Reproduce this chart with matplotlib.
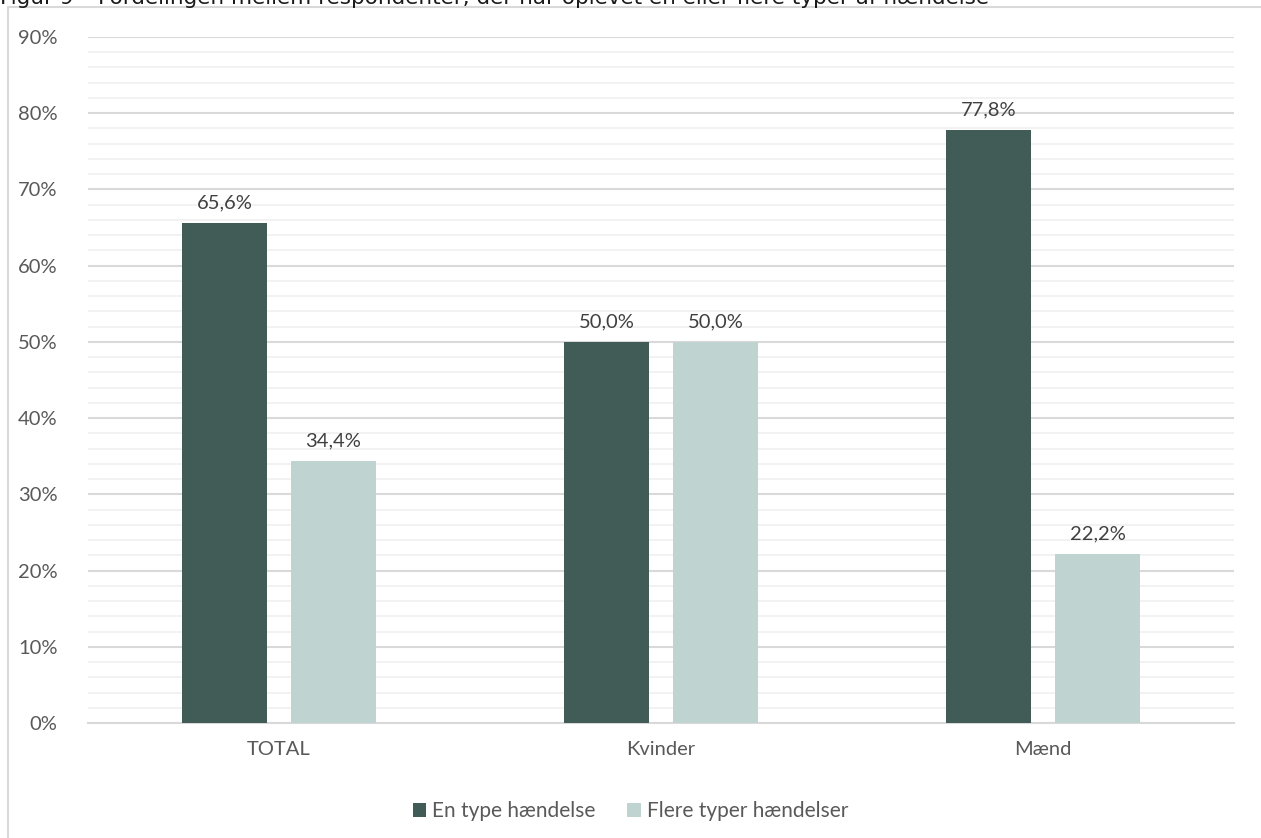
import numpy as np
import matplotlib.pyplot as plt
from matplotlib.patches import Rectangle

categories = ['TOTAL', 'Kvinder', 'Mænd']
series_names = ['En type hændelse', 'Flere typer hændelser']
one_type = [65.6, 50.0, 77.8]
several_types = [34.4, 50.0, 22.2]
colors = ['#415b57', '#bfd3d1']
title = 'Figur 9 – Fordelingen mellem respondenter, der har oplevet en eller flere typer af hændelse'

W, H = 1261, 838
fig = plt.figure(figsize=(W / 100, H / 100), dpi=100)
plt.rcParams['font.family'] = ['Lato', 'DejaVu Sans']

# chart frame (partly outside the picture)
fig.patches.append(Rectangle((8 / W, -0.1), 1.2, 1 - 7 / H + 0.1, transform=fig.transFigure,
                             fill=False, edgecolor='#d9d9d9', lw=1.5))
# title, cut off at the top as in the source
fig.text(0 / W, 1 - 4 / H, title, ha='left', va='baseline', fontsize=15.5,
         family='DejaVu Sans', color='#1a1a1a')

ax = fig.add_axes([88 / W, 1 - 723 / H, (1234 - 88) / W, (723 - 37) / H])
x = np.arange(len(categories))
bw = 0.225
off = 0.1427
bars1 = ax.bar(x - off, one_type, bw, color=colors[0], label=series_names[0], zorder=3)
bars2 = ax.bar(x + off, several_types, bw, color=colors[1], label=series_names[1], zorder=3)

for bars in (bars1, bars2):
    for b in bars:
        v = b.get_height()
        ax.text(b.get_x() + b.get_width() / 2, v + 1.5, f'{v:.1f}%'.replace('.', ','),
                ha='center', va='bottom', fontsize=14.5, color='#404040')

ax.set_xlim(-0.5, 2.5)
ax.set_ylim(0, 90)
ax.set_yticks(np.arange(0, 91, 10))
ax.set_yticklabels([f'{t}%' for t in range(0, 91, 10)])
ax.set_yticks(np.arange(0, 91, 2), minor=True)
ax.grid(axis='y', which='major', color='#d9d9d9', lw=1.5, zorder=0)
ax.grid(axis='y', which='minor', color='#f0f0f0', lw=1.2, zorder=0)
ax.set_xticks(x)
ax.set_xticklabels(categories)
ax.tick_params(axis='both', which='both', length=0, labelsize=14.5, labelcolor='#595959')
ax.tick_params(axis='y', pad=22)
ax.tick_params(axis='x', pad=13)
for s in ['top', 'right', 'left']:
    ax.spines[s].set_visible(False)
ax.spines['bottom'].set_color('#d9d9d9')
ax.spines['bottom'].set_linewidth(1.5)

leg = fig.legend(loc='center', bbox_to_anchor=(0.5, 1 - 811 / H), ncol=2, frameon=False,
                 fontsize=15, handlelength=0.65, handleheight=0.65, handletextpad=0.3,
                 columnspacing=1.5)
for t in leg.get_texts():
    t.set_color('#595959')

fig.savefig('out.png', dpi=100)
